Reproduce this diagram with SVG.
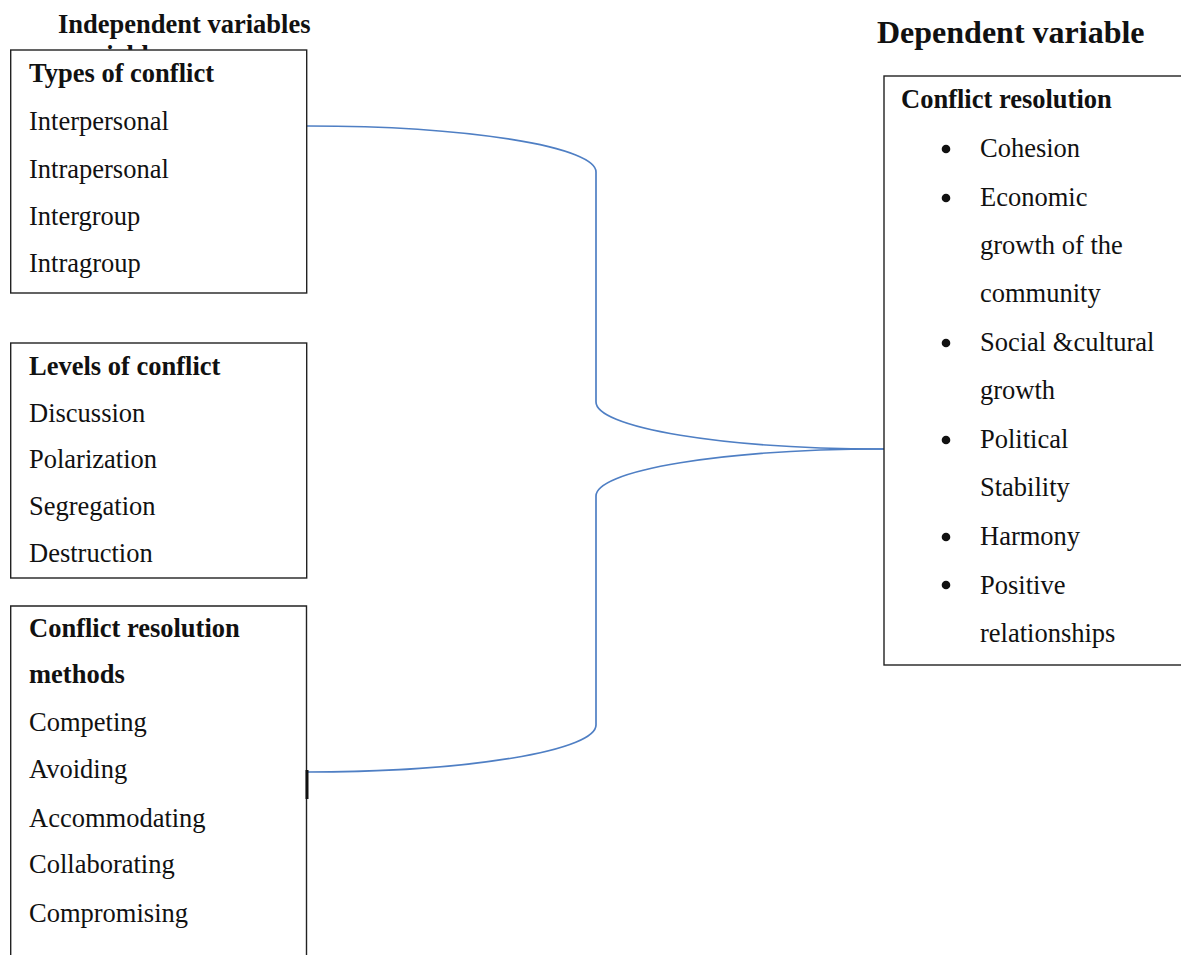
<svg xmlns="http://www.w3.org/2000/svg" width="1181" height="955" viewBox="0 0 1181 955">
<style>
text { font-family: "Liberation Serif", "Times New Roman", serif; font-size: 26.5px; fill: #111; }
.b { font-weight: bold; }
.h2 { font-weight: bold; font-size: 32px; }
.box { fill: #fff; stroke: #222; stroke-width: 1.4; }
.edge { fill: none; stroke: #4f7fc4; stroke-width: 1.7; }
.dot { fill: #111; }
</style>
<rect width="1181" height="955" fill="#fff"/>
<g id="headers">
<text class="b" x="58" y="33">Independent variables</text>
<text class="b" x="68" y="63.5">variables</text>
<text class="h2" x="877" y="43">Dependent variable</text>
</g>
<g id="connectors">
<path class="edge" d="M307,126 A288,46 0 0 1 596,172 V402 A288,47 0 0 0 884,449"/>
<path class="edge" d="M884,449 A288,47 0 0 0 596,496 V725 A289,47 0 0 1 307,772"/>
</g>
<g id="types-of-conflict">
<rect class="box" x="10.7" y="50" width="296" height="243"/>
<text class="b" x="29" y="82">Types of conflict</text>
<text x="29" y="130">Interpersonal</text>
<text x="29" y="178">Intrapersonal</text>
<text x="29" y="225">Intergroup</text>
<text x="29" y="272">Intragroup</text>
</g>
<g id="levels-of-conflict">
<rect class="box" x="10.7" y="343" width="296" height="235"/>
<text class="b" x="29" y="375">Levels of conflict</text>
<text x="29" y="422">Discussion</text>
<text x="29" y="468">Polarization</text>
<text x="29" y="515">Segregation</text>
<text x="29" y="562">Destruction</text>
</g>
<g id="conflict-resolution-methods">
<path class="box" d="M10.7,960 V606 H306.5 V960"/>
<line x1="307" y1="770" x2="307" y2="799" stroke="#111" stroke-width="3"/>
<text class="b" x="29" y="637">Conflict resolution</text>
<text class="b" x="29" y="683">methods</text>
<text x="29" y="731">Competing</text>
<text x="29" y="778">Avoiding</text>
<text x="29" y="827">Accommodating</text>
<text x="29" y="873">Collaborating</text>
<text x="29" y="922">Compromising</text>
</g>
<g id="conflict-resolution">
<rect class="box" x="884" y="76" width="310" height="589"/>
<text class="b" x="901" y="108">Conflict resolution</text>
<circle class="dot" cx="946" cy="149" r="4.3"/>
<text x="980" y="157">Cohesion</text>
<circle class="dot" cx="946" cy="198" r="4.3"/>
<text x="980" y="206">Economic</text>
<text x="980" y="254">growth of the</text>
<text x="980" y="302">community</text>
<circle class="dot" cx="946" cy="343" r="4.3"/>
<text x="980" y="351">Social &amp;cultural</text>
<text x="980" y="399">growth</text>
<circle class="dot" cx="946" cy="440" r="4.3"/>
<text x="980" y="448">Political</text>
<text x="980" y="496">Stability</text>
<circle class="dot" cx="946" cy="537" r="4.3"/>
<text x="980" y="545">Harmony</text>
<circle class="dot" cx="946" cy="585" r="4.3"/>
<text x="980" y="594">Positive</text>
<text x="980" y="642">relationships</text>
</g>
</svg>
